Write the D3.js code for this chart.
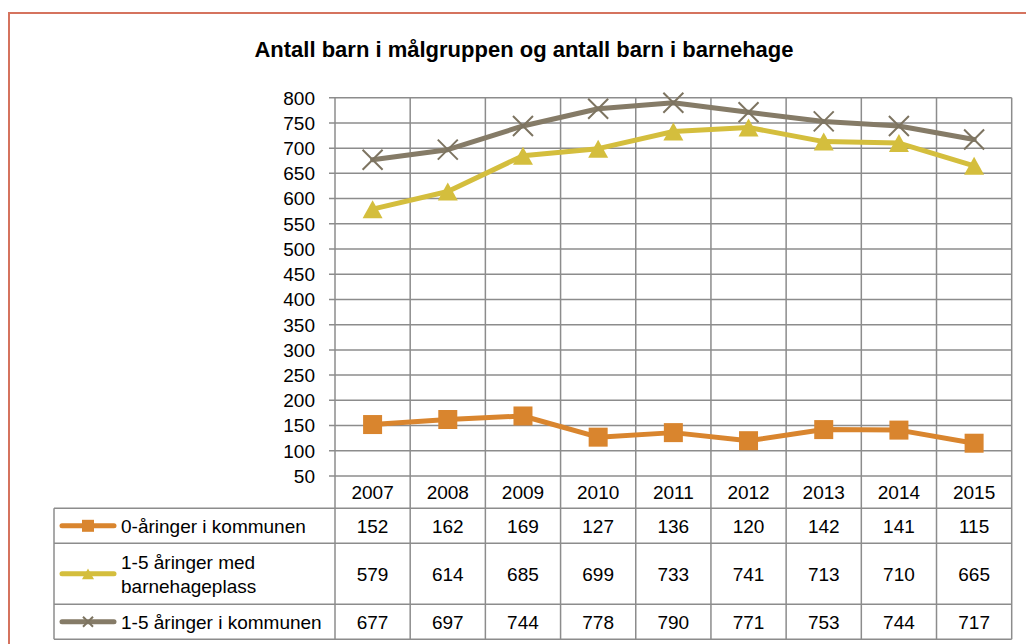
<!DOCTYPE html>
<html>
<head>
<meta charset="utf-8">
<script src="https://cdn.jsdelivr.net/npm/d3@7"></script>
<style>
  body { margin: 0; background: #fff; }
  text { font-family: "Liberation Sans", Arial, sans-serif; fill: #000; }
</style>
</head>
<body>
<script>
var years = ["2007", "2008", "2009", "2010", "2011", "2012", "2013", "2014", "2015"];
var nullAar = [152, 162, 169, 127, 136, 120, 142, 141, 115];
var medPlass = [579, 614, 685, 699, 733, 741, 713, 710, 665];
var ettTilFem = [677, 697, 744, 778, 790, 771, 753, 744, 717];
var yTicks = [50, 100, 150, 200, 250, 300, 350, 400, 450, 500, 550, 600, 650, 700, 750, 800];
var title = "Antall barn i målgruppen og antall barn i barnehage";

var series = [
  { name: ["0-åringer i kommunen"], values: nullAar, color: "#d9852e", marker: "square" },
  { name: ["1-5 åringer med", "barnehageplass"], values: medPlass, color: "#d4be3d", marker: "triangle" },
  { name: ["1-5 åringer i kommunen"], values: ettTilFem, color: "#857b67", marker: "cross" }
];

var width = 1026, height = 644;
var plotLeft = 335, plotRight = 1011.7, plotTop = 97.7, plotBottom = 476;
var tableLeft = 54;
var rowLines = [508.3, 543.3, 604.3, 639.3];
var gridColor = "#8c8c8c";
var fontSize = "19px";

const svg = d3.select("body").append("svg")
  .attr("width", width)
  .attr("height", height);

/* 外框 */
svg.append("rect")
  .attr("x", 9).attr("y", 13)
  .attr("width", 1100).attr("height", 700)
  .attr("fill", "none")
  .attr("stroke", "#d5735e")
  .attr("stroke-width", 2);

svg.append("text")
  .attr("x", 524)
  .attr("y", 57)
  .attr("text-anchor", "middle")
  .style("font-size", "22px")
  .style("font-weight", "bold")
  .text(title);

const x = d3.scaleBand().domain(years).range([plotLeft, plotRight]).padding(0);
const y = d3.scaleLinear().domain([50, 800]).range([plotBottom, plotTop]);

/* 横向网格 */
svg.append("g")
  .selectAll("line")
  .data(yTicks)
  .enter().append("line")
  .attr("x1", plotLeft - 6)
  .attr("x2", plotRight)
  .attr("y1", d => y(d))
  .attr("y2", d => y(d))
  .attr("stroke", gridColor)
  .attr("stroke-width", 1.5);

svg.append("g")
  .selectAll("text")
  .data(yTicks)
  .enter().append("text")
  .attr("x", 315)
  .attr("y", d => y(d))
  .attr("dy", "0.36em")
  .attr("text-anchor", "end")
  .style("font-size", fontSize)
  .text(d => d);

/* 纵向网格 + 表格竖线 */
var vx = years.map(d => x(d)).concat([plotRight]);
svg.append("g")
  .selectAll("line")
  .data(vx)
  .enter().append("line")
  .attr("x1", d => d).attr("x2", d => d)
  .attr("y1", plotTop).attr("y2", rowLines[3])
  .attr("stroke", gridColor)
  .attr("stroke-width", 1.5);

svg.append("line")
  .attr("x1", tableLeft).attr("x2", tableLeft)
  .attr("y1", rowLines[0]).attr("y2", rowLines[3])
  .attr("stroke", gridColor).attr("stroke-width", 1.5);

svg.append("g")
  .selectAll("line")
  .data(rowLines)
  .enter().append("line")
  .attr("x1", tableLeft).attr("x2", plotRight)
  .attr("y1", d => d).attr("y2", d => d)
  .attr("stroke", gridColor)
  .attr("stroke-width", 1.5);

/* 表头年份 */
svg.append("g")
  .selectAll("text")
  .data(years)
  .enter().append("text")
  .attr("x", d => x(d) + x.bandwidth() / 2)
  .attr("y", (plotBottom + rowLines[0]) / 2)
  .attr("dy", "0.36em")
  .attr("text-anchor", "middle")
  .style("font-size", fontSize)
  .text(d => d);

function drawMarker(g, type, color, size) {
  if (type === "square") {
    g.append("rect")
      .attr("x", -size / 2).attr("y", -size / 2)
      .attr("width", size).attr("height", size)
      .attr("fill", color);
  } else if (type === "triangle") {
    var h = size * 0.9;
    g.append("path")
      .attr("d", "M0," + (-h / 2) + "L" + (size / 2) + "," + (h / 2) + "L" + (-size / 2) + "," + (h / 2) + "Z")
      .attr("fill", color);
  } else {
    var s = size / 2;
    g.append("path")
      .attr("d", "M" + (-s) + "," + (-s) + "L" + s + "," + s + "M" + (-s) + "," + s + "L" + s + "," + (-s))
      .attr("stroke", color)
      .attr("stroke-width", 2)
      .attr("fill", "none");
  }
}

const line = d3.line()
  .x((d, i) => x(years[i]) + x.bandwidth() / 2)
  .y(d => y(d));

var rowMid = [
  (rowLines[0] + rowLines[1]) / 2,
  (rowLines[1] + rowLines[2]) / 2,
  (rowLines[2] + rowLines[3]) / 2
];

/* 线条与标记 */
series.slice().reverse().forEach(function (s) {
  svg.append("path")
    .datum(s.values)
    .attr("d", line)
    .attr("fill", "none")
    .attr("stroke", s.color)
    .attr("stroke-width", 5)
    .attr("stroke-linejoin", "round")
    .attr("stroke-linecap", "round");

  var mk = svg.append("g")
    .selectAll("g")
    .data(s.values)
    .enter().append("g")
    .attr("transform", (d, i) => "translate(" + (x(years[i]) + x.bandwidth() / 2) + "," + y(d) + ")");
  mk.each(function () {
    drawMarker(d3.select(this), s.marker, s.marker === "cross" ? "#7d7461" : s.color,
      s.marker === "square" ? 19 : 20);
  });
});

/* 图例 + 数值行 */
series.forEach(function (s, r) {
  var cy = rowMid[r];
  svg.append("line")
    .attr("x1", 62).attr("x2", 114)
    .attr("y1", cy).attr("y2", cy)
    .attr("stroke", s.color)
    .attr("stroke-width", 5)
    .attr("stroke-linecap", "round");
  var lg = svg.append("g").attr("transform", "translate(88," + cy + ")");
  drawMarker(lg, s.marker, s.marker === "cross" ? "#7d7461" : s.color, s.marker === "cross" ? 10 : 12);

  var lt = svg.append("text")
    .attr("x", 121)
    .attr("y", cy - (s.name.length - 1) * 12)
    .style("font-size", fontSize);
  lt.selectAll("tspan")
    .data(s.name)
    .enter().append("tspan")
    .attr("x", 121)
    .attr("dy", (d, i) => i === 0 ? "0.36em" : "24px")
    .text(d => d);

  svg.append("g")
    .selectAll("text")
    .data(s.values)
    .enter().append("text")
    .attr("x", (d, i) => x(years[i]) + x.bandwidth() / 2)
    .attr("y", cy)
    .attr("dy", "0.36em")
    .attr("text-anchor", "middle")
    .style("font-size", fontSize)
    .text(d => d);
});
</script>
</body>
</html>
